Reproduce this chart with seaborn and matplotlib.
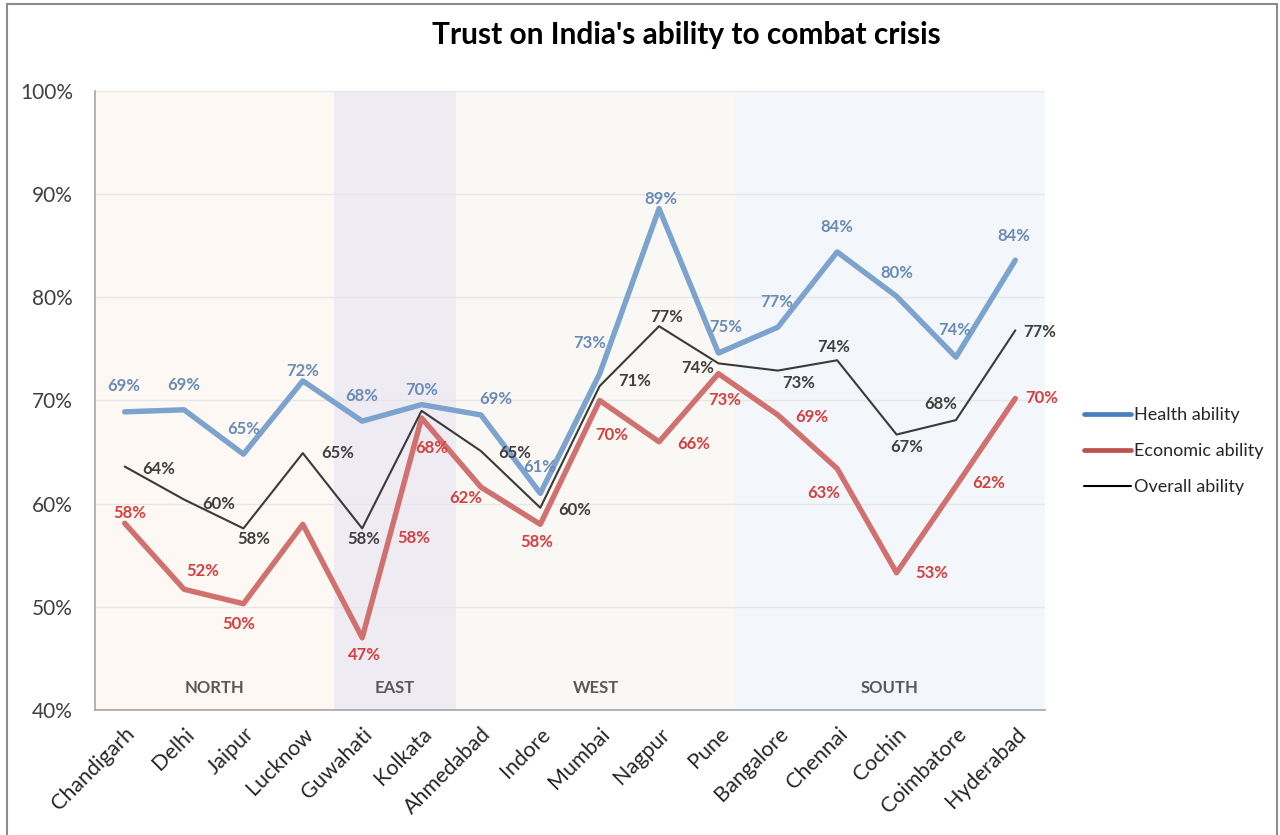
import numpy as np
import pandas as pd
import matplotlib
matplotlib.use("Agg")
import matplotlib.pyplot as plt
from matplotlib.lines import Line2D
import seaborn as sns

# ---- data -------------------------------------------------------------
cities = ["Chandigarh", "Delhi", "Jaipur", "Lucknow", "Guwahati", "Kolkata",
          "Ahmedabad", "Indore", "Mumbai", "Nagpur", "Pune", "Bangalore",
          "Chennai", "Cochin", "Coimbatore", "Hyderabad"]
health = [68.9, 69.1, 64.8, 71.9, 68.0, 69.6, 68.6, 61.0, 72.6, 88.6, 74.6,
          77.1, 84.4, 80.1, 74.2, 83.6]
economic = [58.1, 51.7, 50.3, 58.0, 47.0, 68.3, 61.6, 58.0, 70.0, 66.0, 72.6,
            68.6, 63.4, 53.3, 61.7, 70.2]
overall = [63.6, 60.4, 57.6, 64.9, 57.6, 69.0, 65.1, 59.6, 71.4, 77.2, 73.6,
           72.9, 73.9, 66.7, 68.1, 76.8]
regions = ["NORTH", "EAST", "WEST", "SOUTH"]
y_ticks = [40, 50, 60, 70, 80, 90, 100]

# ---- layout / styling -------------------------------------------------
region_spans = [(-0.5, 3.53), (3.53, 5.58), (5.58, 10.28), (10.28, 15.5)]
region_colors = ["#FDF8F4", "#EEEBF3", "#F9F8F4", "#F3F7FB"]

health_line, econ_line, overall_line = "#7CA2CE", "#D0716F", "#3A3A3A"
health_text, econ_text, overall_text = "#6A8BB5", "#D63F3F", "#3F3F3F"

# label offsets in pixels (dx, dy downward); None = no label
health_off = [(-1, -26), (0, -25), (0, -25), (0, -10), (0, -25), (0, -15),
              (15, -16), (-1, -26), (-10, -31), (2, -10), (7, -26), (-1, -25),
              (0, -25), (0, -23), (-1, -27), (-1, -24)]
econ_off = [(5, -10), (19, -18), (-5, 20), None, (2, 17), (10, 30),
            (-15, 11), (-4, 18), (12, 34), (35, 2), (6, 26), (34, 2),
            (-13, 24), (35, 0), (33, -3), (26, 0)]
overall_off = [(34, 2), (35, 4), (10, 11), (35, 0), (2, 11), None,
               (34, 2), (34, 2), (35, -5), (8, -9), (-21, 5), (21, 12),
               (-3, -13), (10, 12), (-15, -16), (24, 2)]

sns.set_theme(style="white")
plt.rcParams["font.family"] = ["Lato", "DejaVu Sans"]

fig = plt.figure(figsize=(12.8, 8.35), dpi=100)
ax = fig.add_axes([95 / 1280, 1 - 710 / 835, 950 / 1280, 619 / 835])

idx = np.arange(len(cities))
df = pd.DataFrame({"idx": idx, "Health ability": health,
                   "Economic ability": economic, "Overall ability": overall})

# region shading
for (x0, x1), c in zip(region_spans, region_colors):
    ax.axvspan(x0, x1, color=c, zorder=0, lw=0)
for (x0, x1), name in zip(region_spans, regions):
    ax.text((x0 + x1) / 2, 42.1, name, ha="center", va="center",
            fontsize=12, fontweight="bold", color="#595959", zorder=1)

# gridlines
for t in y_ticks[1:]:
    ax.axhline(t, color="#E6E6E6", lw=1, zorder=0.5)

sns.lineplot(data=df, x="idx", y="Health ability", ax=ax, color=health_line,
             lw=3.9, zorder=3)
sns.lineplot(data=df, x="idx", y="Economic ability", ax=ax, color=econ_line,
             lw=3.9, zorder=3)
sns.lineplot(data=df, x="idx", y="Overall ability", ax=ax, color=overall_line,
             lw=1.5, zorder=4)


def put_labels(values, offsets, color):
    for i, (v, off) in enumerate(zip(values, offsets)):
        if off is None:
            continue
        ax.annotate(f"{v:.0f}%", (i, v), xytext=(off[0], -off[1]),
                    textcoords="offset pixels", ha="center", va="center",
                    fontsize=12, fontweight="bold", color=color, zorder=6)


put_labels(health, health_off, health_text)
put_labels(economic, econ_off, econ_text)
put_labels(overall, overall_off, overall_text)
# extra label printed beside Kolkata
ax.annotate("58%", (5, economic[5]), xytext=(-8, -120),
            textcoords="offset pixels", ha="center", va="center",
            fontsize=12, fontweight="bold", color=econ_text, zorder=6)

ax.set_xlim(-0.5, 15.5)
ax.set_ylim(40, 100)
ax.set_yticks(y_ticks)
ax.set_yticklabels([f"{t}%" for t in y_ticks], fontsize=15, color="#404040")
ax.set_xticks(idx)
ax.set_xticklabels(cities, rotation=45, ha="right", rotation_mode="anchor",
                   fontsize=15.5, color="#262626")
ax.tick_params(axis="y", length=0, pad=16)
ax.tick_params(axis="x", length=0, pad=10)
ax.set_xlabel("")
ax.set_ylabel("")
for s in ["top", "right"]:
    ax.spines[s].set_visible(False)
for s in ["left", "bottom"]:
    ax.spines[s].set_color("#A6A6A6")
    ax.spines[s].set_linewidth(1.2)

fig.text(686 / 1280, 1 - 35 / 835, "Trust on India's ability to combat crisis",
         ha="center", va="center", fontsize=21.5, fontweight="bold", color="black")

handles = [Line2D([], [], color="#4A7EBB", lw=3.4),
           Line2D([], [], color="#C0504D", lw=3.4),
           Line2D([], [], color="black", lw=1.5)]
fig.legend(handles, ["Health ability", "Economic ability", "Overall ability"],
           loc="center left", bbox_to_anchor=(1068 / 1280, 1 - 451 / 835),
           frameon=False, fontsize=13, handlelength=2.6, handletextpad=0.15,
           labelspacing=1.1, labelcolor="#262626")

# outer chart frame
for xs, ys in [([7 / 1280, 7 / 1280], [0, 1 - 4 / 835]),
               ([7 / 1280, 1277 / 1280], [1 - 4 / 835, 1 - 4 / 835]),
               ([1277 / 1280, 1277 / 1280], [0, 1 - 4 / 835])]:
    fig.add_artist(Line2D(xs, ys, color="#8C8C8C", lw=1.5,
                          transform=fig.transFigure))

fig.savefig("out.png", dpi=100, facecolor="white")
